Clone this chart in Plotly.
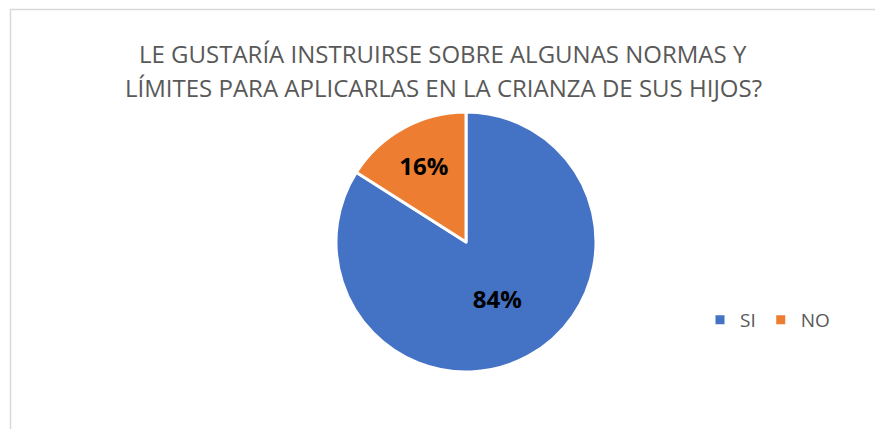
import plotly.graph_objects as go

labels = ["SI", "NO"]
values = [84, 16]
colors = ["#4472C4", "#ED7D31"]
title_lines = ["LE GUSTARÍA INSTRUIRSE SOBRE ALGUNAS NORMAS Y",
               "LÍMITES PARA APLICARLAS EN LA CRIANZA DE SUS HIJOS?"]

OFF = 8  # page body margin
W, H = 883 - OFF, 429 - OFF


def px(x):
    return (x - OFF) / W


def py(y):
    return 1 - (y - OFF) / H


cx, cy, r = 466, 242, 130

fig = go.Figure(go.Pie(
    labels=labels, values=values, sort=False, direction="clockwise", rotation=0,
    marker=dict(colors=colors, line=dict(color="white", width=3)),
    textinfo="percent", texttemplate="<b>%{percent:.0%}</b>",
    textposition="inside", insidetextorientation="horizontal",
    textfont=dict(family="Open Sans", size=24, color="black"),
    domain=dict(x=[px(cx - r), px(cx + r)], y=[py(cy + r), py(cy - r)]),
    hoverinfo="label+percent",
))

annotations = []
for i, line in enumerate(title_lines):
    annotations.append(dict(text=line, xref="paper", yref="paper", x=px(443), y=py(53 + 35 * i),
                            xanchor="center", yanchor="middle", showarrow=False,
                            font=dict(family="Open Sans", size=24, color="#595959")))

fig.update_layout(
    width=W, height=H, margin=dict(l=0, r=0, t=0, b=0),
    paper_bgcolor="white", plot_bgcolor="white",
    annotations=annotations,
    showlegend=True,
    legend=dict(orientation="h", x=px(700), y=py(320), xanchor="left", yanchor="middle",
                font=dict(family="Open Sans", size=19, color="#595959"),
                bgcolor="rgba(0,0,0,0)"),
    shapes=[dict(type="rect", xref="paper", yref="paper",
                 x0=px(10.5), x1=px(882), y0=-0.05, y1=py(9.5),
                 line=dict(color="#D9D9D9", width=1.5), fillcolor="rgba(0,0,0,0)", layer="below")],
)

fig.write_html("out.html")
